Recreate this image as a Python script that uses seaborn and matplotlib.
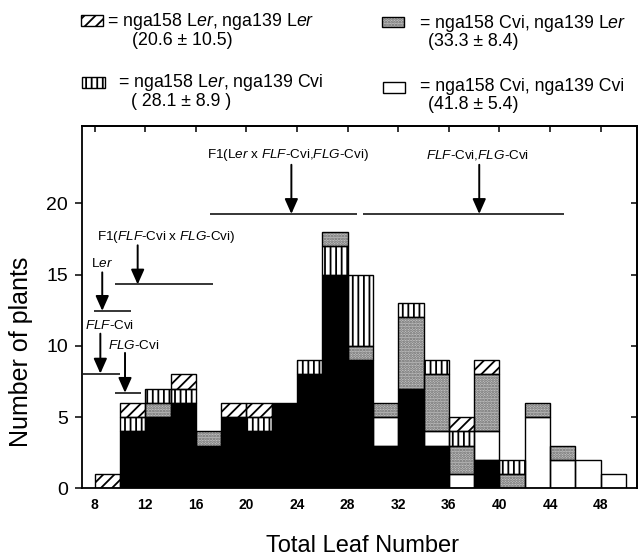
import matplotlib
matplotlib.use("Agg")
import matplotlib.pyplot as plt
from matplotlib.patches import Rectangle
import seaborn as sns

# ---------------------------------------------------------------
# Data
# ---------------------------------------------------------------

leaf_bins = [8, 10, 12, 14, 16, 18, 20, 22, 24, 26, 28,
             30, 32, 34, 36, 38, 40, 42, 44, 46, 48]

n_black = [0, 4, 5, 6, 3, 5, 4, 6, 8, 15, 9, 3, 7, 3, 0, 2, 0, 0, 0, 0, 0]
n_white = [0, 0, 0, 0, 0, 0, 0, 0, 0, 0, 0, 2, 0, 1, 1, 2, 0, 5, 2, 2, 1]
n_stipple = [0, 0, 1, 0, 1, 0, 0, 0, 0, 1, 1, 1, 5, 4, 2, 4, 1, 1, 1, 0, 0]
n_vertical = [0, 1, 1, 1, 0, 0, 1, 0, 1, 2, 5, 0, 1, 1, 1, 0, 1, 0, 0, 0, 0]
n_hatch = [1, 1, 0, 1, 0, 1, 1, 0, 0, 0, 0, 0, 0, 0, 1, 1, 0, 0, 0, 0, 0]

stack_order = ["black", "white", "stipple", "vertical", "hatch"]
stack_override = {26: ["black", "vertical", "stipple"]}

legend_keys = ["hatch", "stipple", "vertical", "white"]
legend_line1 = [
    r"= nga158 L$\it{er}$, nga139 L$\it{er}$",
    r"= nga158 Cvi, nga139 L$\it{er}$",
    r"= nga158 L$\it{er}$, nga139 Cvi",
    r"= nga158 Cvi, nga139 Cvi",
]
legend_line2 = ["(20.6 ± 10.5)", "(33.3 ± 8.4)", "( 28.1 ± 8.9 )", "(41.8 ± 5.4)"]

annot_text = [
    r"L$\it{er}$",
    r"$\it{FLF}$-Cvi",
    r"$\it{FLG}$-Cvi",
    r"F1($\it{FLF}$-Cvi x $\it{FLG}$-Cvi)",
    r"F1(L$\it{er}$ x $\it{FLF}$-Cvi,$\it{FLG}$-Cvi)",
    r"$\it{FLF}$-Cvi,$\it{FLG}$-Cvi",
]
annot_mean = [8.6, 8.45, 10.4, 11.4, 23.55, 38.4]
annot_low = [7.95, 7.1, 9.6, 9.6, 17.1, 29.2]
annot_high = [10.85, 10.0, 11.65, 17.35, 28.7, 45.1]
annot_level = [12.45, 8.05, 6.7, 14.3, 19.25, 19.25]

# ---------------------------------------------------------------
# Style
# ---------------------------------------------------------------

sns.set_style("ticks", {
    "axes.edgecolor": "black",
    "axes.labelcolor": "black",
    "text.color": "black",
    "xtick.color": "black",
    "ytick.color": "black",
})
plt.rcParams["font.family"] = ["Liberation Sans", "DejaVu Sans"]
plt.rcParams["mathtext.fontset"] = "custom"
plt.rcParams["mathtext.rm"] = "Liberation Sans"
plt.rcParams["mathtext.it"] = "Liberation Sans:italic"
plt.rcParams["mathtext.bf"] = "Liberation Sans:bold"
plt.rcParams["hatch.linewidth"] = 1.3

styles = {
    "black": dict(face="black", hatch=None, hcolor="black"),
    "white": dict(face="white", hatch=None, hcolor="black"),
    "stipple": dict(face="#c2c2c2", hatch="......", hcolor="#6a6a6a"),
    "vertical": dict(face="white", hatch="|||", hcolor="black"),
    "hatch": dict(face="white", hatch="///", hcolor="black"),
}

counts = {
    "black": n_black,
    "white": n_white,
    "stipple": n_stipple,
    "vertical": n_vertical,
    "hatch": n_hatch,
}

W, H = 638, 556
fig = plt.figure(figsize=(W / 100, H / 100), dpi=100)
ax = fig.add_axes([82 / W, (H - 488.3) / H, 555 / W, 362.3 / H])


def draw_segment(left, bottom, height, key):
    st = styles[key]
    # fill + hatch pass (hatch takes the edge colour)
    ax.bar(left, height, width=2, bottom=bottom, align="edge",
           color=st["face"], edgecolor=st["hcolor"], hatch=st["hatch"],
           linewidth=0, zorder=2)
    # outline pass
    ax.bar(left, height, width=2, bottom=bottom, align="edge",
           fill=False, edgecolor="black", linewidth=1.0, zorder=3)


for i, left in enumerate(leaf_bins):
    order = stack_override.get(left, stack_order)
    bottom = 0
    for key in order:
        h = counts[key][i]
        if h == 0:
            continue
        draw_segment(left, bottom, h, key)
        bottom += h

# ---------------------------------------------------------------
# Mean / range markers
# ---------------------------------------------------------------

text_x = [8.55, 9.2, 11.1, 13.65, 23.3, 38.3]
text_y = [15.8, 11.4, 10.0, 17.6, 23.4, 23.4]
arrow_top = [15.15, 10.85, 9.5, 17.05, 22.7, 22.7]

for k in range(len(annot_text)):
    ax.plot([annot_low[k], annot_high[k]], [annot_level[k]] * 2,
            color="black", lw=1.1, zorder=4, solid_capstyle="butt")
    ax.annotate(
        "", xy=(annot_mean[k], annot_level[k]),
        xytext=(annot_mean[k], arrow_top[k]),
        arrowprops=dict(arrowstyle="-|>,head_length=0.45,head_width=0.2",
                        color="black", lw=1.4, mutation_scale=20,
                        shrinkA=0, shrinkB=0),
        zorder=4,
    )
    ax.text(text_x[k], text_y[k], annot_text[k], fontsize=9.7,
            ha="center", va="center", zorder=4)

# ---------------------------------------------------------------
# Axes
# ---------------------------------------------------------------

ax.set_xlim(7, 50.87)
ax.set_ylim(0, 25.42)
ax.set_xticks(range(8, 49, 4))
ax.set_yticks([0, 5, 10, 15, 20])
ax.tick_params(axis="x", length=0, pad=7, labelsize=10)
for lab in ax.get_xticklabels():
    lab.set_fontweight("bold")
ax.tick_params(axis="y", direction="out", length=5, width=1.1,
               labelsize=14, pad=5)
for sp in ax.spines.values():
    sp.set_linewidth(1.3)

top = ax.secondary_xaxis("top")
top.set_xticks(range(8, 49, 4))
top.set_xticklabels([])
top.tick_params(direction="in", length=4, width=1.1)
top.spines["top"].set_linewidth(1.3)

right = ax.secondary_yaxis("right")
right.set_yticks([5, 10, 15, 20])
right.set_yticklabels([])
right.tick_params(direction="in", length=4, width=1.1)
right.spines["right"].set_linewidth(1.3)

ax.set_xlabel("Total Leaf Number", fontsize=17)
ax.xaxis.set_label_coords((362 - 82) / 555, -0.128)
ax.set_ylabel("Number of plants", fontsize=18)
ax.yaxis.set_label_coords(-0.088, 0.376)

# ---------------------------------------------------------------
# Legend (2 x 2 block above the plot)
# ---------------------------------------------------------------

patch_box = [(80.7, 15, 22, 11), (381.7, 16.7, 22.6, 10),
             (81.7, 76.7, 23.3, 11.6), (383, 81.7, 22, 11.6)]
line1_pos = [(106.7, 21.7), (419.3, 23.3), (118.3, 82.3), (420, 86.7)]
line2_pos = [(131.7, 40.7), (428.3, 41.7), (131, 101.7), (428.3, 105)]


def fx(x):
    return x / W


def fy(y):
    return 1 - y / H


for k, key in enumerate(legend_keys):
    st = styles[key]
    x0, y0, pw, ph = patch_box[k]
    fig.add_artist(Rectangle((fx(x0), fy(y0 + ph)), pw / W, ph / H,
                             transform=fig.transFigure,
                             facecolor=st["face"], edgecolor=st["hcolor"],
                             hatch=st["hatch"], linewidth=0))
    fig.add_artist(Rectangle((fx(x0), fy(y0 + ph)), pw / W, ph / H,
                             transform=fig.transFigure, fill=False,
                             edgecolor="black", linewidth=1.0))
    tx, ty = line1_pos[k]
    fig.text(fx(tx), fy(ty), legend_line1[k], fontsize=12.8,
             ha="left", va="center")
    tx, ty = line2_pos[k]
    fig.text(fx(tx), fy(ty), legend_line2[k], fontsize=12.8,
             ha="left", va="center")

fig.savefig("out.png", dpi=100)
plt.close(fig)
